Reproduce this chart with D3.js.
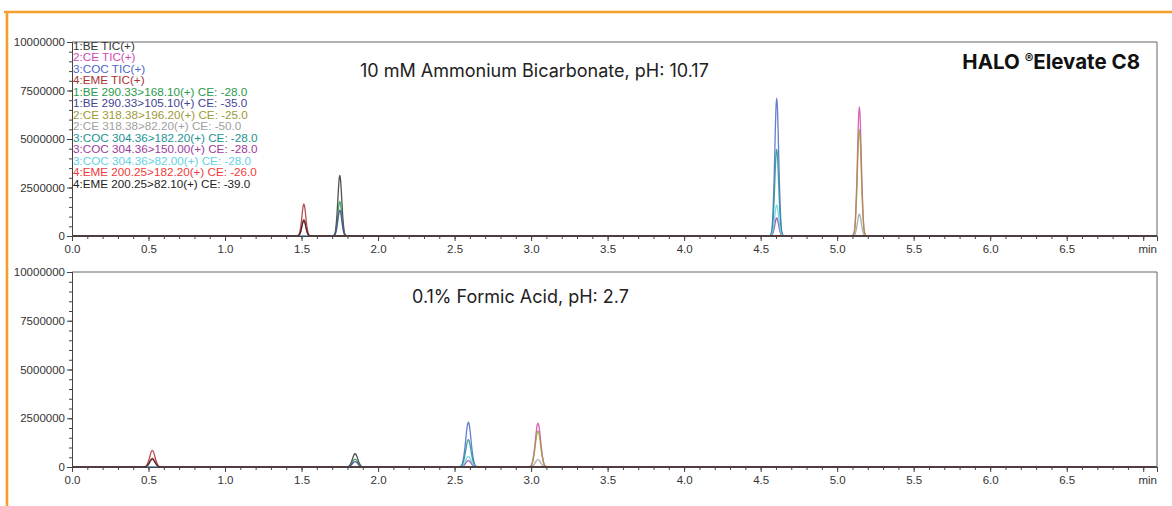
<!DOCTYPE html>
<html>
<head>
<meta charset="utf-8">
<script src="https://cdn.jsdelivr.net/npm/d3@7"></script>
<style>
  body { margin: 0; background: #fff; }
  svg { display: block; }
</style>
</head>
<body>
<div id="chart"></div>
<script>
// trace names / colours (legend order)
var traceNames = [
    '1:BE TIC(+)', '2:CE TIC(+)', '3:COC TIC(+)', '4:EME TIC(+)',
    '1:BE 290.33>168.10(+) CE: -28.0', '1:BE 290.33>105.10(+) CE: -35.0',
    '2:CE 318.38>196.20(+) CE: -25.0', '2:CE 318.38>82.20(+) CE: -50.0',
    '3:COC 304.36>182.20(+) CE: -28.0', '3:COC 304.36>150.00(+) CE: -28.0',
    '3:COC 304.36>82.00(+) CE: -28.0',
    '4:EME 200.25>182.20(+) CE: -26.0', '4:EME 200.25>82.10(+) CE: -39.0'
];
var traceColors = [
    '#333333', '#d048b0', '#4a68c8', '#a83232',
    '#2a9a4c', '#444494', '#9c9a34', '#a0a0a0',
    '#20938f', '#9a3c9c', '#64d0e4', '#f03a3a', '#222222'
];
// compound index of each trace (0 BE, 1 CE, 2 COC, 3 EME)
var traceCompound = [0, 1, 2, 3, 0, 0, 1, 1, 2, 2, 2, 3, 3];

// retention times (min) of BE, CE, COC, EME
var rtBicarb = [1.75, 5.145, 4.605, 1.515];
var rtFormic = [1.85, 3.045, 2.59, 0.525];

// peak heights per trace
var heightBicarb = [3120000, 6650000, 7100000, 1650000,
    1780000, 1330000, 5500000, 1130000, 4480000, 930000, 1600000, 850000, 800000];
var heightFormic = [680000, 2250000, 2300000, 850000,
    400000, 280000, 1850000, 380000, 1400000, 330000, 550000, 450000, 400000];

// relative peak shape (offset in half-widths, relative level)
var shapeOffsets = [-1, -0.7, -0.5, -0.35, -0.2, -0.1, 0, 0.1, 0.2, 0.35, 0.5, 0.7, 1];
var shapeLevels = [0, 0.03, 0.18, 0.42, 0.75, 0.93, 1, 0.93, 0.75, 0.42, 0.18, 0.03, 0];

var xTicks = [0, 0.5, 1, 1.5, 2, 2.5, 3, 3.5, 4, 4.5, 5, 5.5, 6, 6.5, 7];
var yTicks = [0, 2500000, 5000000, 7500000, 10000000];

var width = 1172, height = 506;
var svg = d3.select('#chart').append('svg')
    .attr('width', width).attr('height', height);

// orange frame
svg.append('path')
    .attr('d', 'M4,12H1172M7,12V506')
    .style('fill', 'none')
    .style('stroke', '#f59e2a')
    .style('stroke-width', 2.6);

var x = d3.scaleLinear().domain([0, 7.09]).range([72, 1157]);

var panels = [
    {top: 42, bottom: 236, rt: rtBicarb, h: heightBicarb, half: 0.048,
     title: '10 mM Ammonium Bicarbonate, pH: 10.17', tx: 360, ty: 77, legend: true},
    {top: 272, bottom: 467, rt: rtFormic, h: heightFormic, half: 0.065,
     title: '0.1% Formic Acid, pH: 2.7', tx: 412, ty: 303, legend: false}
];

panels.forEach(function(p) {
    var y = d3.scaleLinear().domain([0, 10000000]).range([p.bottom, p.top]);
    var g = svg.append('g');

    // traces
    var line = d3.line()
        .x(function(d) { return x(d[0]); })
        .y(function(d) { return y(d[1]); })
        .curve(d3.curveMonotoneX);
    traceNames.forEach(function(name, i) {
        var rt = p.rt[traceCompound[i]];
        var pts = [[0, 0]];
        shapeOffsets.forEach(function(o, k) {
            pts.push([rt + o * p.half, shapeLevels[k] * p.h[i]]);
        });
        pts.push([7.09, 0]);
        g.append('path').datum(pts)
            .attr('d', line)
            .style('fill', 'none')
            .style('stroke', traceColors[i])
            .style('stroke-width', 1.3)
            .style('stroke-opacity', 0.85);
    });

    // frame top/right
    g.append('path')
        .attr('d', 'M' + x(0) + ',' + y(10000000) + 'H' + x(7.09) + 'V' + y(0))
        .style('fill', 'none').style('stroke', '#666').style('stroke-width', 1);

    // axes
    g.append('g').attr('transform', 'translate(' + x(0) + ',0)')
        .call(d3.axisLeft(y).tickValues(yTicks).tickSize(5).tickPadding(2)
            .tickFormat(d3.format('d')));
    g.append('g').attr('transform', 'translate(' + x(0) + ',0)')
        .call(d3.axisLeft(y).tickValues(d3.range(0, 10000001, 500000)).tickSize(3).tickFormat(''));
    var xAxis = g.append('g').attr('transform', 'translate(0,' + y(0) + ')')
        .call(d3.axisBottom(x).tickValues(xTicks).tickSize(5).tickPadding(4)
            .tickFormat(function(d) { return d === 7 ? 'min' : d3.format('.1f')(d); }));
    g.append('g').attr('transform', 'translate(0,' + y(0) + ')')
        .call(d3.axisBottom(x).tickValues(d3.range(0, 71).map(function(v) { return v / 10; }))
            .tickSize(3).tickFormat(''));

    g.selectAll('.domain').style('stroke', '#444');
    g.selectAll('.tick line').style('stroke', '#444');
    g.selectAll('.tick text')
        .style('font', '11.5px "Liberation Sans", Arial, sans-serif')
        .style('fill', '#333');
    xAxis.selectAll('.tick text').filter(function(d) { return d === 7; })
        .attr('dx', 4);

    // title
    g.append('text')
        .attr('x', p.tx).attr('y', p.ty)
        .style('font', '18px Inter, "Open Sans", sans-serif')
        .style('fill', '#222')
        .text(p.title);

    if (p.legend) {
        g.selectAll('.legend').data(traceNames).enter().append('text')
            .attr('x', 73)
            .attr('y', function(d, i) { return 50 + i * 11.47; })
            .style('font', '11.7px "Liberation Sans", Arial, sans-serif')
            .style('fill', function(d, i) { return traceColors[i]; })
            .text(function(d) { return d; });

        var halo = g.append('text')
            .attr('x', 1140).attr('y', 69)
            .attr('text-anchor', 'end')
            .style('font', 'bold 20.5px Inter, "Open Sans", sans-serif')
            .style('fill', '#111');
        halo.append('tspan').text('HALO ');
        halo.append('tspan').attr('dy', -6).style('font-size', '13px').text('®');
        halo.append('tspan').attr('dy', 6).text('Elevate C8');
    }
});
</script>
</body>
</html>
